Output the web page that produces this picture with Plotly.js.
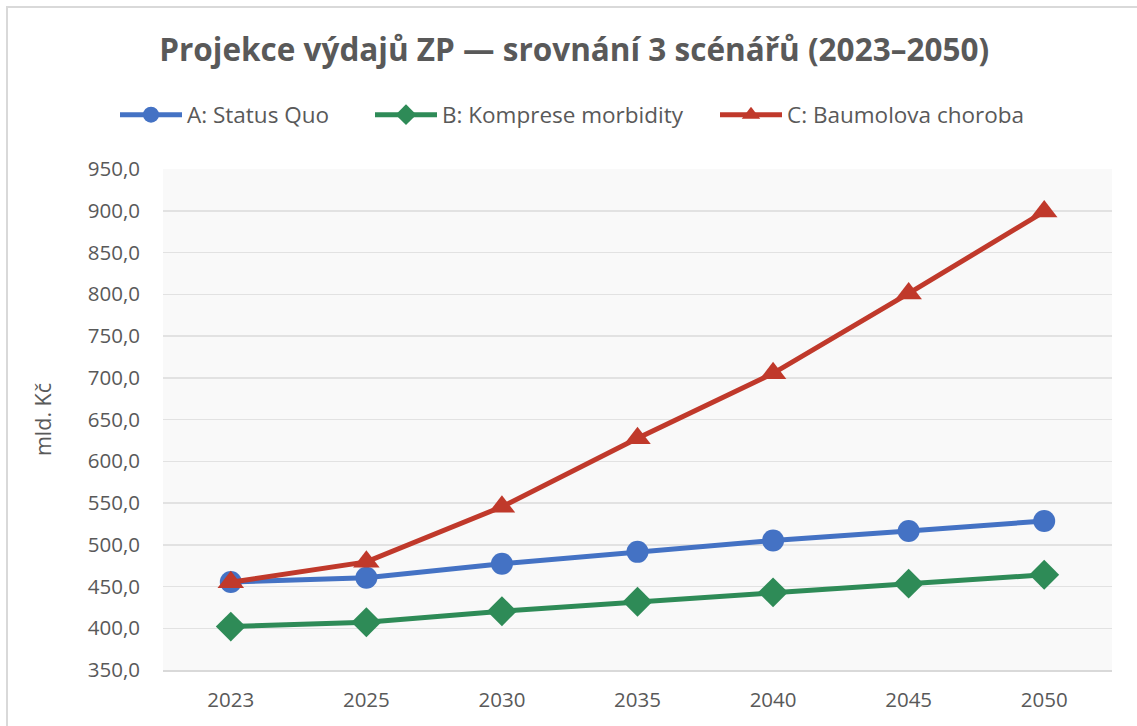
<!DOCTYPE html>
<html>
<head>
<meta charset="utf-8">
<script src="https://cdn.plot.ly/plotly-3.0.1.min.js"></script>
<style>
  body { margin: 0; background: #ffffff; }
  #wrap { position: relative; width: 1137px; height: 726px; overflow: hidden; }
  #chart { width: 1137px; height: 726px; }
  #frame { position: absolute; left: 6px; top: 6px; right: -10px; bottom: -10px;
           border-top: 2px solid #D9D9D9; border-left: 2px solid #D9D9D9; pointer-events: none; }
</style>
</head>
<body>
<div id="wrap">
  <div id="chart"></div>
  <div id="frame"></div>
</div>
<script>
const years = ["2023", "2025", "2030", "2035", "2040", "2045", "2050"];
const statusQuo = [455.5, 460.5, 477.2, 491.5, 505.0, 516.5, 528.5];
const kompreseMorbidity = [402.0, 407.2, 420.4, 431.8, 443.0, 453.4, 464.0];
const baumolovaChoroba = [455.0, 479.5, 545.5, 627.5, 705.3, 801.0, 899.0];
const seriesNames = ["A: Status Quo", "B: Komprese morbidity", "C: Baumolova choroba"];
const yTicks = [350, 400, 450, 500, 550, 600, 650, 700, 750, 800, 850, 900, 950];

const FONT = "'Open Sans', 'Noto Sans', sans-serif";
const GRAY = "#595959";

const traces = [
  { x: years, y: statusQuo, name: seriesNames[0], type: "scatter", mode: "lines+markers", legend: "legend",
    line: { color: "#4472C4", width: 5 }, marker: { symbol: "circle", size: 22, color: "#4472C4" } },
  { x: years, y: kompreseMorbidity, name: seriesNames[1], type: "scatter", mode: "lines+markers", legend: "legend2",
    line: { color: "#2E8B57", width: 5 }, marker: { symbol: "diamond", size: 23, color: "#2E8B57" } },
  { x: years, y: baumolovaChoroba, name: seriesNames[2], type: "scatter", mode: "lines+markers", legend: "legend3",
    line: { color: "#C0392B", width: 5 }, marker: { symbol: "triangle-up", size: 23, color: "#C0392B" } }
];

function legendAt(px) {
  return {
    orientation: "h",
    xref: "container", yref: "container",
    x: px / 1137, xanchor: "left",
    y: 1 - 115 / 726, yanchor: "middle",
    font: { family: FONT, size: 22.5, color: GRAY },
    itemwidth: 62,
    bgcolor: "rgba(0,0,0,0)"
  };
}

const layout = {
  width: 1137, height: 726,
  paper_bgcolor: "#ffffff",
  plot_bgcolor: "#F9F9F9",
  margin: { l: 163, r: 25, t: 169, b: 56 },
  font: { family: FONT, color: GRAY, size: 20 },
  separators: ",.",
  title: {
    text: "<b>Projekce výdajů ZP — srovnání 3 scénářů (2023–2050)</b>",
    font: { family: FONT, size: 31.5, color: GRAY },
    x: 0.505, xref: "container", xanchor: "center",
    y: 1 - 50 / 726, yref: "container", yanchor: "middle"
  },
  showlegend: true,
  legend: legendAt(115),
  legend2: legendAt(370),
  legend3: legendAt(715),
  xaxis: {
    type: "category",
    range: [-0.5, 6.5],
    showgrid: false,
    showline: true, linecolor: "#D9D9D9", linewidth: 2,
    ticks: "", ticklabelstandoff: 10,
    tickfont: { family: FONT, size: 20.5, color: GRAY },
    zeroline: false, fixedrange: true
  },
  yaxis: {
    range: [350, 950],
    tickvals: yTicks,
    tickformat: ".1f",
    showgrid: true, gridcolor: "#E2E2E2", gridwidth: 1.5,
    showline: false, zeroline: false,
    ticks: "", ticklabelstandoff: 22,
    tickfont: { family: FONT, size: 20.5, color: GRAY },
    title: { text: "mld. Kč", font: { family: FONT, size: 21.5, color: GRAY }, standoff: 30 },
    fixedrange: true
  }
};

Plotly.newPlot("chart", traces, layout, { displayModeBar: false, staticPlot: true });
</script>
</body>
</html>
